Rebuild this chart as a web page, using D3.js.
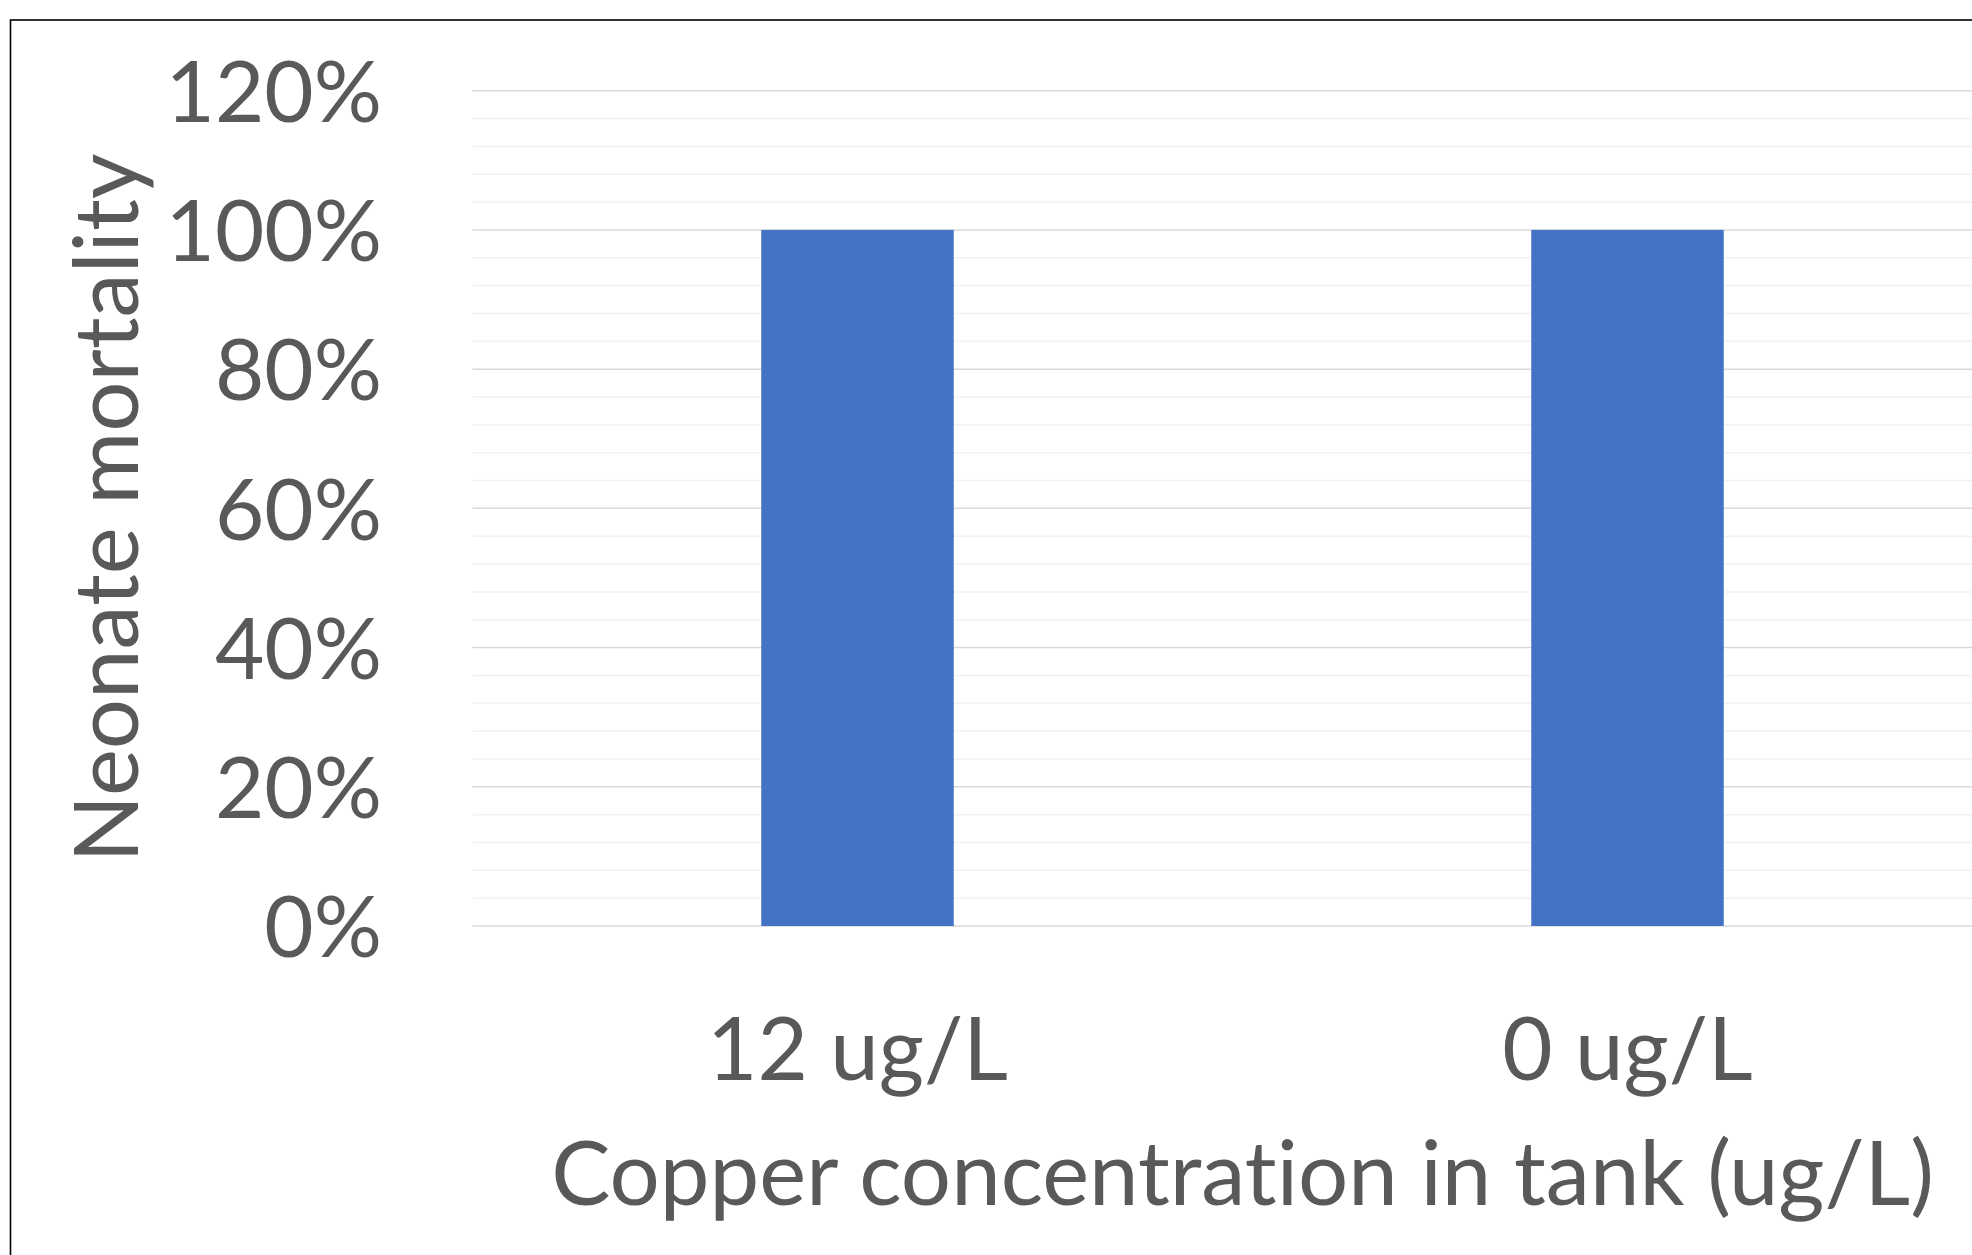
<!DOCTYPE html>
<html><head><meta charset="utf-8">
<script src="https://cdn.jsdelivr.net/npm/d3@7"></script>
<style>html,body{margin:0;padding:0;background:#fff;overflow:hidden} svg text{font-variant-ligatures:none;font-feature-settings:"liga" 0,"clig" 0}</style>
</head><body>
<script>
const categories = ["12 ug/L", "0 ug/L"];
const mortality = [1.0, 1.0];
const yTickValues = [0, 0.2, 0.4, 0.6, 0.8, 1.0, 1.2];
const yMinorValues = [0.04,0.08,0.12,0.16,0.24,0.28,0.32,0.36,0.44,0.48,0.52,0.56,0.64,0.68,0.72,0.76,0.84,0.88,0.92,0.96,1.04,1.08,1.12,1.16];
const xTitle = "Copper concentration in tank (ug/L)";
const yTitle = "Neonate mortality";

const W = 1972, H = 1255;
const FONT = "Lato, 'Open Sans', sans-serif";
const TXT = "#595959";

const svg = d3.select("body").append("svg").attr("width", W).attr("height", H)
  .style("font-family", FONT);
svg.append("rect").attr("width", W).attr("height", H).attr("fill", "#fff");

const plot = {left: 472.5, right: 2012.5, top: 90.7, bottom: 926};
const x = d3.scaleBand().domain(categories).range([plot.left, plot.right])
  .paddingInner(0.75).paddingOuter(0.375);
const y = d3.scaleLinear().domain([0, 1.2]).range([plot.bottom, plot.top]);

// fit font size so the x title width matches the reference
const probe = svg.append("text").style("font-size", "100px").text(xTitle);
const fs = 100 * 1383 / probe.node().getComputedTextLength();
probe.remove();

// gridlines
svg.append("g").selectAll("line").data(yMinorValues).join("line")
  .attr("x1", plot.left).attr("x2", plot.right)
  .attr("y1", d => y(d)).attr("y2", d => y(d))
  .attr("stroke", "#f2f2f2").attr("stroke-width", 1.5);
svg.append("g").selectAll("line").data(yTickValues).join("line")
  .attr("x1", plot.left).attr("x2", plot.right)
  .attr("y1", d => y(d)).attr("y2", d => y(d))
  .attr("stroke", "#d9d9d9").attr("stroke-width", 1.5);

// bars
svg.append("g").selectAll("rect").data(categories).join("rect")
  .attr("x", d => x(d)).attr("width", x.bandwidth())
  .attr("y", (d, i) => y(mortality[i])).attr("height", (d, i) => y(0) - y(mortality[i]))
  .attr("fill", "#4472C4");

// y axis labels
const ya = svg.append("g").attr("transform", "translate(382,0)")
  .call(d3.axisLeft(y).tickValues(yTickValues).tickFormat(d3.format(".0%")).tickSize(0).tickPadding(0));
ya.select(".domain").remove();
ya.selectAll("text").attr("fill", TXT).style("font-size", (fs * 0.96) + "px").style("font-family", FONT)
  .attr("dy", "0.36em");

// x axis labels
const xa = svg.append("g").attr("transform", `translate(0,${plot.bottom})`)
  .call(d3.axisBottom(x).tickSize(0).tickPadding(0));
xa.select(".domain").remove();
xa.selectAll("text").attr("fill", TXT).style("font-size", (fs * 0.98) + "px").style("font-family", FONT)
  .attr("y", 1080 - plot.bottom).attr("dy", 0);

// axis titles
svg.append("text").attr("x", (plot.left + plot.right) / 2).attr("y", 1205)
  .attr("text-anchor", "middle").attr("fill", TXT).style("font-size", fs + "px").text(xTitle);
svg.append("text").attr("transform", "translate(138,508) rotate(-90)")
  .attr("text-anchor", "middle").attr("fill", TXT).style("font-size", fs + "px").text(yTitle);

// chart border (cropped on the right and bottom)
svg.append("rect").attr("x", 10.5).attr("y", 20).attr("width", 2200).attr("height", 1500)
  .attr("fill", "none").attr("stroke", "#000").attr("stroke-width", 1.6);
</script>
</body></html>
